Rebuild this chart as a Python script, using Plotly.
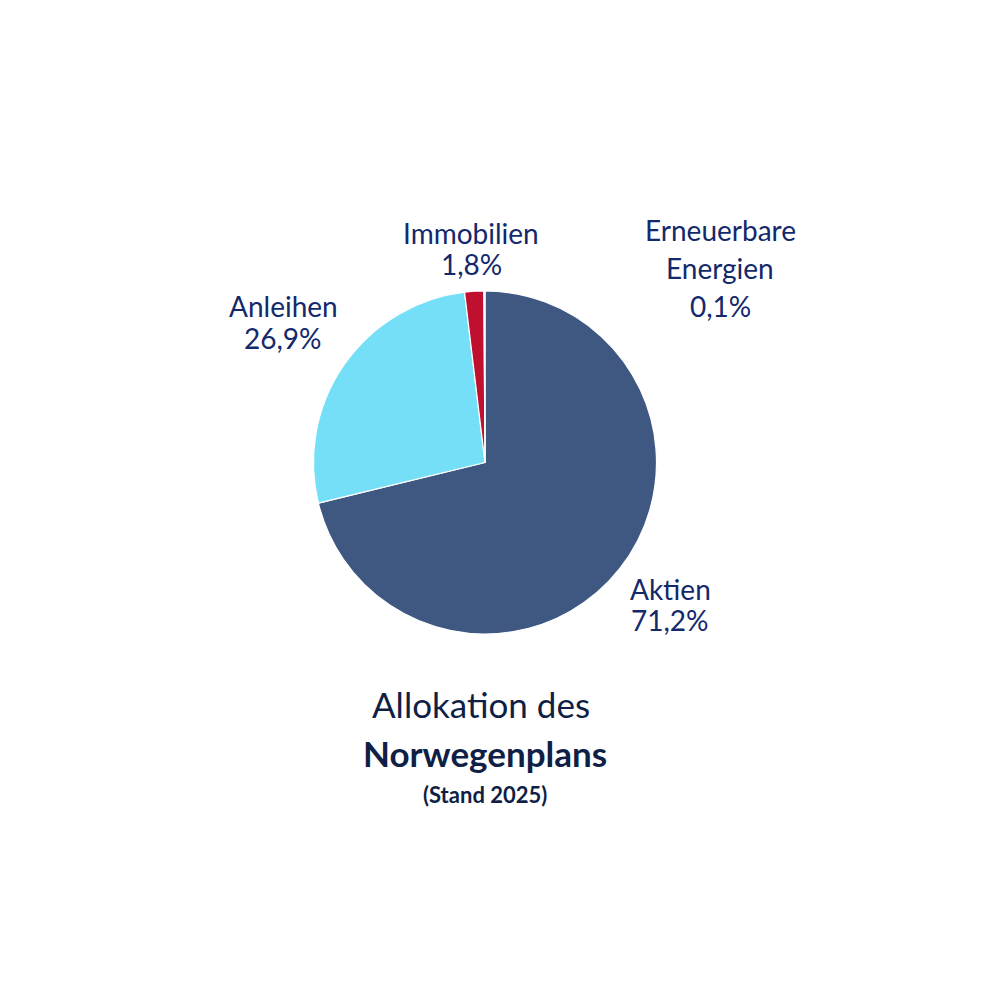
import plotly.graph_objects as go

# Data
labels = ["Aktien", "Anleihen", "Immobilien", "Erneuerbare Energien"]
values = [71.2, 26.9, 1.8, 0.1]
label_lines = [["Aktien"], ["Anleihen"], ["Immobilien"], ["Erneuerbare", "Energien"]]
colors = ["#3F5882", "#74DFF7", "#C0102F", "#E8EEF5"]
title_lines = ["Allokation des", "Norwegenplans", "(Stand 2025)"]

OFF = 8  # page body margin in the screenshot

def px_x(p):
    return (p - OFF) / 1000

def px_y(p):
    return 1 - (p - OFF) / 1000

# Layout positions (screen pixels) for label blocks: center x, first line y, line spacing
label_pos = [(670, 589, 31), (283, 306, 32), (471, 233, 31), (720, 230, 38)]

TEXT = "#13296B"
TITLE = "#0F1F45"
FONT = "Lato"

fig = go.Figure(go.Pie(
    labels=labels,
    values=values,
    sort=False,
    direction="clockwise",
    rotation=0,
    marker=dict(colors=colors, line=dict(color="white", width=1.2)),
    textinfo="none",
    hoverinfo="label+percent",
    domain=dict(x=[px_x(313), px_x(657)], y=[px_y(634), px_y(291)]),
    showlegend=False,
))

def fmt(v):
    return f"{v:.1f}".replace(".", ",") + "%"

annotations = []
for lines, v, (cx, y0, dy) in zip(label_lines, values, label_pos):
    for i, t in enumerate(lines + [fmt(v)]):
        annotations.append(dict(
            x=px_x(cx), y=px_y(y0 + i * dy), xref="paper", yref="paper",
            text=t, showarrow=False, xanchor="center", yanchor="middle",
            font=dict(family=FONT, size=28, color=TEXT),
        ))

title_pos = [(481, 704, 35, False), (485, 753, 35, True), (485, 794, 22, True)]
for t, (cx, cy, sz, bold) in zip(title_lines, title_pos):
    annotations.append(dict(
        x=px_x(cx), y=px_y(cy), xref="paper", yref="paper",
        text=f"<b>{t}</b>" if bold else t, showarrow=False,
        xanchor="center", yanchor="middle",
        font=dict(family=FONT, size=sz, color=TITLE),
    ))

fig.update_layout(
    width=1000, height=1000,
    margin=dict(l=0, r=0, t=0, b=0),
    paper_bgcolor="white", plot_bgcolor="white",
    annotations=annotations,
    font=dict(family=FONT),
)

fig.write_html("out.html")
